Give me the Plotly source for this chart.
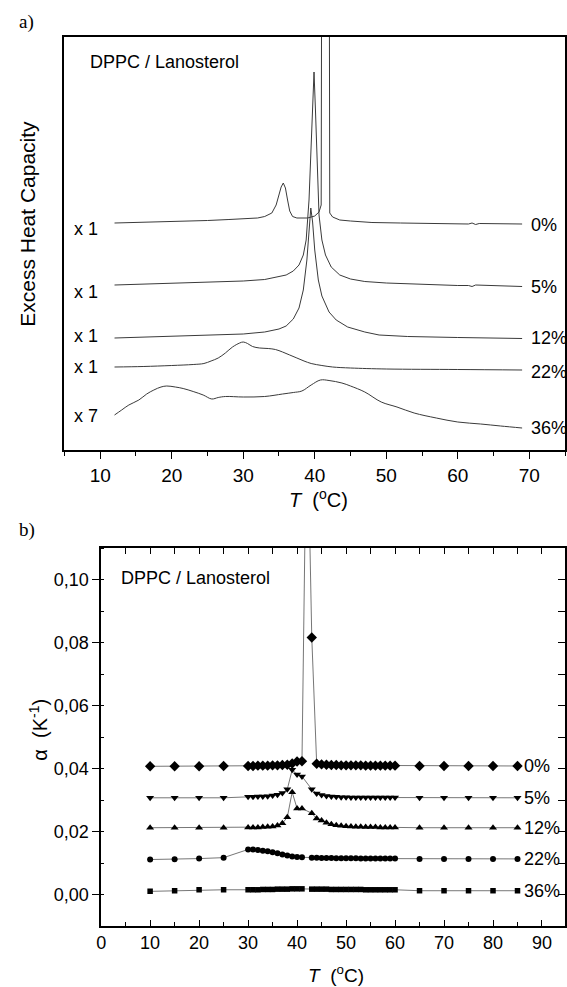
import plotly.graph_objects as go

# ---------------- panel a) : DSC curves (arbitrary units, offset) ----------------
T0 = [12, 15, 20, 25, 28, 30, 32, 33, 34, 34.6, 35.0, 35.3, 35.6, 35.9, 36.2, 36.5, 36.9, 37.5, 39,
      40.0, 40.6, 40.9, 41.5, 42.1, 42.5, 43.5, 45, 48, 52, 60, 61.5, 62, 62.5, 63, 69]
C0 = [227, 227.5, 228.5, 229.5, 230.5, 231.5, 232, 233.5, 237, 245, 255, 263, 267, 262, 250, 239, 233.5,
      232, 232, 234, 238, 245, 2500, 237, 233, 230, 229, 227.5, 227, 226, 226, 227, 225.5, 226.5, 226]

T5 = [12, 20, 25, 30, 33, 35, 36, 37, 37.8, 38.4, 38.8, 39.2, 39.5, 39.75, 39.9, 40.1, 40.35, 40.6,
      41, 41.5, 42.3, 43.5, 45, 47, 50, 55, 60, 61.5, 62, 62.5, 69]
C5 = [165, 166.5, 167.5, 169, 170.5, 173, 175, 179, 185, 195, 210, 250, 300, 350, 378, 340, 280, 235,
      210, 195, 183, 175, 171, 168.5, 167, 165.5, 164.5, 164.5, 163.5, 165, 163.5]

T12 = [12, 20, 25, 30, 33, 35, 36, 37, 37.8, 38.4, 38.9, 39.2, 39.45, 39.7, 40.0, 40.5, 41, 42, 43,
       44.6, 47, 49, 53, 60, 69]
C12 = [112, 113.5, 114.5, 116, 118, 121, 124, 131, 142, 160, 190, 220, 242, 228, 200, 170, 154, 138,
       130, 123, 118, 115, 113.5, 112.5, 111.5]

T22 = [12, 16, 20, 23, 24.5, 25.5, 26.5, 27.5, 28.5, 29.5, 30.0, 30.6, 31.3, 32.3, 33.5, 34.5, 35.5,
       36.5, 37.5, 38.5, 39.5, 41, 42.5, 45, 50, 60, 69]
C22 = [83, 83.5, 84.5, 85.5, 86.5, 89, 92, 97, 103, 107, 108, 106.5, 103.5, 102, 101.5, 100.5, 98,
       95, 92, 89, 86.5, 84.5, 83, 82, 81, 80.5, 80]

T36 = [12, 13, 14, 15.4, 16.5, 17.5, 18.5, 19.3, 20.5, 21.6, 23, 24.4, 25.6, 26.5, 27.5, 30, 33,
       35.5, 37, 38.2, 39.5, 40.8, 42, 43.8, 45, 47, 49.3, 51.5, 53.9, 57, 60, 63.2, 66, 69]
C36 = [35, 40, 45, 50, 56, 60, 63, 64, 63, 61.5, 58.5, 55, 51, 52.5, 53.5, 53, 53.5, 56, 57.5, 59,
       65, 70, 69.5, 67, 64, 58, 48, 43, 37, 32, 28, 26, 24, 22]

dsc_labels_left = ["x 1", "x 1", "x 1", "x 1", "x 7"]
dsc_labels_left_y = [221, 158, 114, 83, 34]
dsc_labels_right = ["0%", "5%", "12%", "22%", "36%"]
dsc_labels_right_y = [225, 163, 112, 78, 22]

# ---------------- panel b) : thermal expansion coefficient ----------------
Tb = [10, 15, 20, 25, 30, 31, 32, 33, 34, 35, 36, 37, 38, 39, 40, 41, 43, 44, 45, 46, 47, 48, 49, 50,
      51, 52, 53, 54, 55, 56, 57, 58, 59, 60, 65, 70, 75, 80, 85]
Tb0 = [10, 15, 20, 25, 30, 31, 32, 33, 34, 35, 36, 37, 38, 39, 40, 41, 42, 43, 44, 45, 46, 47, 48, 49,
       50, 51, 52, 53, 54, 55, 56, 57, 58, 59, 60, 65, 70, 75, 80, 85]
a0 = [0.0407, 0.0407, 0.0407, 0.0408,
      0.0408, 0.0408, 0.0409, 0.0409, 0.0409, 0.0410, 0.0410, 0.0411, 0.0412, 0.0416, 0.0422, 0.0423,
      0.160, 0.0816,
      0.0415, 0.0413, 0.0412, 0.0411, 0.0411, 0.0410, 0.0410, 0.0410, 0.0410, 0.0410, 0.0409, 0.0409,
      0.0409, 0.0409, 0.0409, 0.0409, 0.0409,
      0.0408, 0.0408, 0.0408, 0.0408, 0.0408]
a5 = [0.0307, 0.0307, 0.0307, 0.0307,
      0.0310, 0.0310, 0.0311, 0.0311, 0.0312, 0.0314, 0.0317, 0.0322, 0.0334, 0.0396, 0.0381, 0.0375,
      0.0334, 0.0321, 0.0316, 0.0313, 0.0311, 0.0310, 0.0309, 0.0309, 0.0308, 0.0308, 0.0308, 0.0308,
      0.0308, 0.0308, 0.0308, 0.0308, 0.0308, 0.0308,
      0.0307, 0.0307, 0.0307, 0.0307, 0.0307]
a12 = [0.0212, 0.0212, 0.0212, 0.0212,
       0.0213, 0.0213, 0.0213, 0.0214, 0.0215, 0.0216, 0.0219, 0.0226, 0.0245, 0.0325, 0.0273, 0.0273,
       0.0258, 0.0241, 0.0235, 0.0228, 0.0223, 0.0220, 0.0218, 0.0217, 0.0216, 0.0215, 0.0215, 0.0214,
       0.0214, 0.0214, 0.0213, 0.0213, 0.0213, 0.0213,
       0.0212, 0.0212, 0.0212, 0.0212, 0.0212]
a22 = [0.0111, 0.0112, 0.0114, 0.0117,
       0.0143, 0.0143, 0.0141, 0.0139, 0.0137, 0.0134, 0.0131, 0.0127, 0.0124, 0.0121, 0.0119, 0.0118,
       0.0117, 0.0117, 0.0116, 0.0116, 0.0116, 0.0115, 0.0115, 0.0115, 0.0115, 0.0115, 0.0114, 0.0114,
       0.0114, 0.0114, 0.0114, 0.0114, 0.0114, 0.0114,
       0.0113, 0.0113, 0.0113, 0.0113, 0.0113]
a36 = [0.0010, 0.0012, 0.0015, 0.0015,
       0.0015, 0.0015, 0.0015, 0.0016, 0.0016, 0.0016, 0.0017, 0.0017, 0.0017, 0.0018, 0.0018, 0.0018,
       0.0017, 0.0017, 0.0017, 0.0017, 0.0016, 0.0016, 0.0016, 0.0016, 0.0016, 0.0016, 0.0016, 0.0015,
       0.0015, 0.0015, 0.0015, 0.0015, 0.0015, 0.0015,
       0.0012, 0.0012, 0.0012, 0.0012, 0.0012]
alpha_labels = ["0%", "5%", "12%", "22%", "36%"]

W, H = 567, 987
FONT = "Liberation Sans, Arial, Helvetica, sans-serif"


def px(xp):
    return xp / W


def py(yp):
    return 1 - yp / H


fig = go.Figure()

# panel a traces
line_a = dict(color="#3a3a3a", width=1)
for T, C, shape in [(T0, C0, "linear"), (T5, C5, "linear"), (T12, C12, "linear"),
                    (T22, C22, "spline"), (T36, C36, "spline")]:
    fig.add_trace(go.Scatter(x=T, y=C, mode="lines", line=dict(line_a, shape=shape),
                             xaxis="x", yaxis="y", showlegend=False, hoverinfo="skip"))

# panel b traces
series_b = [(Tb0, a0, "diamond", 8), (Tb, a5, "triangle-down", 7), (Tb, a12, "triangle-up", 7),
            (Tb, a22, "circle", 6), (Tb, a36, "square", 5.5)]
for T, A, sym, sz in series_b:
    fig.add_trace(go.Scatter(x=T, y=A, mode="lines+markers",
                             line=dict(color="#666666", width=0.9),
                             marker=dict(symbol=sym, size=sz, color="black", line=dict(width=0)),
                             xaxis="x2", yaxis="y2", showlegend=False, hoverinfo="skip",
                             cliponaxis=True))

# helper empty traces for mirrored tick axes
fig.add_trace(go.Scatter(x=[], y=[], xaxis="x3", yaxis="y2", showlegend=False))
fig.add_trace(go.Scatter(x=[], y=[], xaxis="x2", yaxis="y3", showlegend=False))

tickfont = dict(family=FONT, size=19, color="black")
tickfont_b = dict(family=FONT, size=18, color="black")

fig.update_layout(
    width=W, height=H, margin=dict(l=0, r=0, t=0, b=0),
    paper_bgcolor="white", plot_bgcolor="white",
    separators=",.",
    xaxis=dict(domain=[px(60), px(565)], range=[5, 75], anchor="y",
               showline=True, linecolor="black", linewidth=1.6, mirror=True,
               ticks="outside", ticklen=7, tickwidth=1.2, tickcolor="black",
               tick0=10, dtick=10, tickfont=tickfont, showgrid=False, zeroline=False,
               minor=dict(ticks="outside", ticklen=4, tickwidth=1.2, tickcolor="black", dtick=5, tick0=5)),
    yaxis=dict(domain=[py(450), py(37)], range=[0, 413], anchor="x",
               showline=True, linecolor="black", linewidth=1.6, mirror=True,
               ticks="", showticklabels=False, showgrid=False, zeroline=False),
    xaxis2=dict(domain=[px(97), px(565)], range=[0, 94.7], anchor="y2",
                showline=True, linecolor="black", linewidth=1.6, mirror=True,
                ticks="inside", ticklen=6, tickwidth=1.2, tickcolor="black",
                tick0=0, dtick=10, tickfont=tickfont_b, showgrid=False, zeroline=False,
                minor=dict(ticks="inside", ticklen=4, tickwidth=1.2, tickcolor="black", dtick=5, tick0=5)),
    xaxis3=dict(overlaying="x2", side="top", anchor="y2", range=[0, 94.7],
                ticks="inside", ticklen=6, tickwidth=1.2, tickcolor="black",
                tick0=0, dtick=5, showticklabels=False, showline=False, showgrid=False, zeroline=False),
    yaxis2=dict(domain=[py(926), py(548)], range=[-0.01, 0.11], anchor="x2",
                showline=True, linecolor="black", linewidth=1.6, mirror=True,
                ticks="outside", ticklen=7, tickwidth=1.2, tickcolor="black",
                tick0=0, dtick=0.02, tickformat=".2f", tickfont=tickfont_b,
                showgrid=False, zeroline=False,
                minor=dict(ticks="inside", ticklen=3, tickwidth=1.2, tickcolor="black", dtick=0.01, tick0=0)),
    yaxis3=dict(overlaying="y2", side="right", anchor="x2", range=[-0.01, 0.11],
                ticks="inside", ticklen=7, tickwidth=1.2, tickcolor="black",
                tick0=0, dtick=0.01, showticklabels=False, showline=False, showgrid=False, zeroline=False),
)

ann = []
txt = dict(family=FONT, size=18, color="black")
# panel letters
ann.append(dict(text="a)", x=px(12), y=py(22), xref="paper", yref="paper", xanchor="left", yanchor="middle",
                showarrow=False, font=dict(family="Liberation Serif, Times New Roman, serif", size=19, color="black")))
ann.append(dict(text="b)", x=px(12), y=py(530), xref="paper", yref="paper", xanchor="left", yanchor="middle",
                showarrow=False, font=dict(family="Liberation Serif, Times New Roman, serif", size=19, color="black")))
# in-panel titles
ann.append(dict(text="DPPC / Lanosterol", x=px(84), y=py(62), xref="paper", yref="paper", xanchor="left",
                yanchor="middle", showarrow=False, font=txt))
ann.append(dict(text="DPPC / Lanosterol", x=px(115), y=py(578), xref="paper", yref="paper", xanchor="left",
                yanchor="middle", showarrow=False, font=txt))
# axis titles
ann.append(dict(text="Excess Heat Capacity", x=px(22), y=py(224), xref="paper", yref="paper", textangle=-90,
                xanchor="center", yanchor="middle", showarrow=False, font=dict(family=FONT, size=21, color="black")))
ann.append(dict(text="<i>T</i>  (<sup>o</sup>C)", x=px(316), y=py(499), xref="paper", yref="paper",
                xanchor="center", yanchor="middle", showarrow=False, font=dict(family=FONT, size=20, color="black")))
ann.append(dict(text="<i>T</i>  (<sup>o</sup>C)", x=px(334), y=py(974), xref="paper", yref="paper",
                xanchor="center", yanchor="middle", showarrow=False, font=dict(family=FONT, size=19, color="black")))
ann.append(dict(text="α  (K<sup>-1</sup>)", x=px(33), y=py(730), xref="paper", yref="paper", textangle=-90,
                xanchor="center", yanchor="middle", showarrow=False, font=dict(family=FONT, size=20, color="black")))
# curve labels panel a
for t, yv in zip(dsc_labels_left, dsc_labels_left_y):
    ann.append(dict(text=t, x=10.0, y=yv, xref="x", yref="y", xanchor="right", yanchor="middle",
                    showarrow=False, font=txt))
for t, yv in zip(dsc_labels_right, dsc_labels_right_y):
    ann.append(dict(text=t, x=69.9, y=yv, xref="x", yref="y", xanchor="left", yanchor="middle",
                    showarrow=False, font=txt))
# curve labels panel b
for t, s in zip(alpha_labels, series_b):
    ann.append(dict(text=t, x=85.9, y=s[1][-1], xref="x2", yref="y2", xanchor="left", yanchor="middle",
                    showarrow=False, font=txt))
fig.update_layout(annotations=ann)

fig.write_html("out.html", config={"displayModeBar": False},
               post_script="document.body.style.margin='0px';document.body.style.padding='0px';"
                           "document.documentElement.style.overflow='hidden';")
